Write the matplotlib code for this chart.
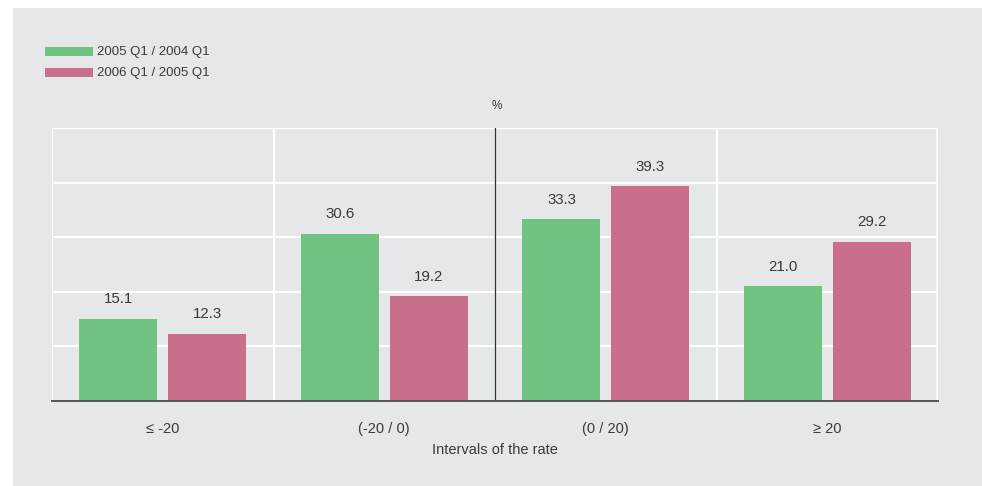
import matplotlib
matplotlib.use("Agg")
import matplotlib.pyplot as plt
from matplotlib.patches import Rectangle

plt.rcParams['font.family'] = ['Liberation Sans', 'DejaVu Sans']

categories = ["\u2264 -20", "(-20 / 0)", "(0 / 20)", "\u2265 20"]
series_names = ["2005 Q1 / 2004 Q1", "2006 Q1 / 2005 Q1"]
values_2005 = [15.1, 30.6, 33.3, 21.0]
values_2006 = [12.3, 19.2, 39.3, 29.2]

green = "#70C383"
pink = "#C96F8C"
panel = "#E6E7E8"
text_col = "#3a3a3a"

W, H = 982, 486
fig = plt.figure(figsize=(W / 100, H / 100), dpi=100)
fig.patch.set_facecolor("white")
fig.add_artist(Rectangle((13 / W, 0), 1 - 13 / W, 1 - 8 / H,
                         transform=fig.transFigure, facecolor=panel,
                         edgecolor="none", zorder=0))

ax = fig.add_axes([52 / W, (H - 401) / H, (938 - 52) / W, (401 - 128) / H])
ax.set_facecolor(panel)
ax.patch.set_alpha(0)

x = list(range(len(categories)))
bw = 0.352
off = 0.2
bars1 = ax.bar([i - off for i in x], values_2005, width=bw, color=green, zorder=3)
bars2 = ax.bar([i + off for i in x], values_2006, width=bw, color=pink, zorder=3)

for bars, vals in ((bars1, values_2005), (bars2, values_2006)):
    for b, v in zip(bars, vals):
        ax.annotate(f"{v:.1f}", (b.get_x() + b.get_width() / 2, v),
                    xytext=(0, 9), textcoords="offset points",
                    ha="center", va="bottom", fontsize=10.8, color=text_col)

ax.set_xlim(-0.5, 3.5)
ax.set_ylim(0, 50)

# horizontal grid
for y in range(10, 51, 10):
    ax.axhline(y, color="white", lw=1.6, zorder=1)
# category separators
for xs in (-0.5, 0.5, 2.5):
    ax.axvline(xs, color="white", lw=1.6, zorder=1)
ax.axvline(3.5, color="white", lw=2.6, zorder=1)
ax.axvline(1.5, color="#333333", lw=0.9, zorder=2)

for s in ("top", "right", "left"):
    ax.spines[s].set_visible(False)
ax.spines["bottom"].set_color("#555555")
ax.spines["bottom"].set_linewidth(1.4)
ax.spines["bottom"].set_zorder(4)

ax.set_yticks([])
ax.set_xticks(x)
ax.set_xticklabels(categories, fontsize=10.5, color=text_col)
ax.tick_params(axis="x", length=0, pad=15)
ax.set_xlabel("Intervals of the rate", fontsize=10.5, color=text_col, labelpad=5)

fig.text(497 / W, 1 - 106 / H, "%", fontsize=8.5, color=text_col,
         ha="center", va="center")

# legend
for k, (name, col) in enumerate(zip(series_names, (green, pink))):
    ytop = 47 + k * 21
    fig.add_artist(Rectangle((45 / W, 1 - (ytop + 9) / H), 48 / W, 9 / H,
                             transform=fig.transFigure, facecolor=col,
                             edgecolor="none"))
    fig.text(97 / W, 1 - (ytop + 5) / H, name, fontsize=9.5,
             color=text_col, ha="left", va="center")

fig.savefig("out.png", dpi=100)
